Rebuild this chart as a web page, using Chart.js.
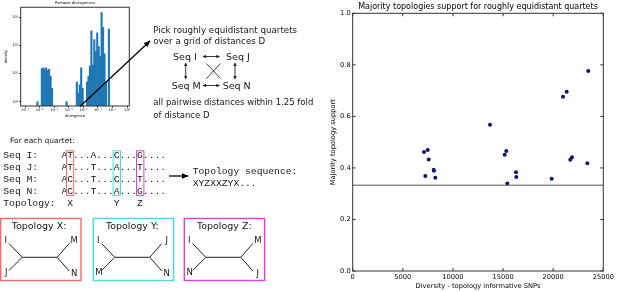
<!DOCTYPE html>
<html>
<head>
<meta charset="utf-8">
<script src="https://cdn.jsdelivr.net/npm/chart.js@4.4.0/dist/chart.umd.min.js"></script>
<style>
  html, body { margin: 0; padding: 0; background: #fff; }
  #fig { position: relative; width: 617px; height: 292px; overflow: hidden; background: #fff; }
  .box { position: absolute; }
  #histBox { left: 0; top: 0; width: 135px; height: 122px; }
  #scatterBox { left: 300px; top: 0; width: 317px; height: 292px; }
  #diagram { position: absolute; left: 0; top: 0; pointer-events: none; }
  #diagram text { font-family: "DejaVu Sans", sans-serif; fill: #151515; }
  #diagram text.mono { font-family: "Liberation Mono", monospace; font-size: 9.7px; white-space: pre; }
</style>
</head>
<body>
<div id="fig">
  <div class="box" id="histBox"><canvas id="histChart"></canvas></div>
  <div class="box" id="scatterBox"><canvas id="scatterChart"></canvas></div>
  <svg id="diagram" width="617" height="292">
    <defs>
      <marker id="headBig" viewBox="0 0 10 10" refX="9" refY="5" markerWidth="7" markerHeight="7" markerUnits="userSpaceOnUse" orient="auto">
        <path d="M0,1 L10,5 L0,9 z" fill="#000"/>
      </marker>
      <marker id="headSmall" viewBox="0 0 10 10" refX="9" refY="5" markerWidth="3.5" markerHeight="3.5" markerUnits="userSpaceOnUse" orient="auto-start-reverse">
        <path d="M0,0 L10,5 L0,10 z" fill="#222"/>
      </marker>
    </defs>

    <!-- arrow from the histogram to the quartet picking step -->
    <line x1="80" y1="106.5" x2="150" y2="41" stroke="#000" stroke-width="1.3" marker-end="url(#headBig)"/>

    <text x="153.3" y="33" font-size="8.7">Pick roughly equidistant quartets</text>
    <text x="153.3" y="43.8" font-size="8.7">over a grid of distances D</text>
    <text x="173" y="60" font-size="9.5">Seq I</text>
    <text x="226" y="60" font-size="9.5">Seq J</text>
    <text x="171.7" y="88.6" font-size="9.5">Seq M</text>
    <text x="222.7" y="89.3" font-size="9.5">Seq N</text>
    <g stroke="#222" stroke-width="0.9">
      <line x1="203" y1="56.5" x2="219.5" y2="56.5" marker-start="url(#headSmall)" marker-end="url(#headSmall)"/>
      <line x1="203" y1="85.5" x2="219.5" y2="85.5" marker-start="url(#headSmall)" marker-end="url(#headSmall)"/>
      <line x1="185.7" y1="63" x2="185.7" y2="79" marker-start="url(#headSmall)" marker-end="url(#headSmall)"/>
      <line x1="235" y1="63" x2="235" y2="79" marker-start="url(#headSmall)" marker-end="url(#headSmall)"/>
      <line x1="206.5" y1="63.5" x2="220.5" y2="78.5"/>
      <line x1="220.5" y1="63.5" x2="206.5" y2="78.5"/>
    </g>
    <text x="153.3" y="104.8" font-size="8.5">all pairwise distances within 1.25 fold</text>
    <text x="153.3" y="118" font-size="8.5">of distance D</text>

    <text x="10" y="142.7" font-size="7.5">For each quartet:</text>
    <text class="mono" x="3.3" y="158.3">Seq I:    AT...A...C...G....</text>
    <text class="mono" x="3.3" y="170.1">Seq J:    AT...T...A...T....</text>
    <text class="mono" x="3.3" y="181.9">Seq M:    AC...T...C...T....</text>
    <text class="mono" x="3.3" y="193.7">Seq N:    AC...T...A...G....</text>
    <text class="mono" x="3.3" y="205.5">Topology:  X       Y   Z</text>
    <rect x="66.5" y="150.8" width="7.2" height="44.6" fill="none" stroke="#f46a6a" stroke-width="1"/>
    <rect x="113.1" y="150.8" width="7.4" height="44.6" fill="none" stroke="#44dde4" stroke-width="1"/>
    <rect x="136.5" y="150.8" width="7.4" height="44.6" fill="none" stroke="#dd3fdd" stroke-width="1"/>
    <line x1="169" y1="176" x2="188" y2="176" stroke="#000" stroke-width="1.3" marker-end="url(#headBig)"/>
    <text class="mono" x="192.7" y="174">Topology sequence:</text>
    <text class="mono" x="192.7" y="185.7">XYZXXZYX...</text>

    <g id="trees"></g>
  </svg>
</div>
<script>
// pairwise divergences histogram: log10 bin centres and counts
const divergenceBins = [-6.15, -5.85, -5.75, -5.65, -5.55, -5.45, -5.35, -5.25, -5.15, -4.15,
  -3.45, -3.35, -3.25, -3.15, -3.05, -2.75, -2.65, -2.55, -2.45, -2.35,
  -2.25, -2.15, -2.05, -1.95, -1.85, -1.75, -1.65, -1.55, -1.45, -1.25];
const divergenceDensity = [1, 15, 16, 14, 16, 13, 14, 8, 3, 1,
  5, 2, 4, 16, 3, 5, 8, 18, 330, 20,
  160, 60, 280, 90, 40, 1480, 440, 50, 5, 380];
const divergenceTicks = [-7, -6, -5, -4, -3, -2, -1, 0];
const densityTicks = [1, 10, 100, 1000];

// majority topology support vs diversity
const snpDiversity = [7113, 7482, 7582, 8081, 8100, 7243, 8240, 13697, 15163, 15323,
  16291, 16321, 15423, 19852, 20979, 21349, 21708, 21877, 23404, 23504];
const majoritySupport = [0.462, 0.470, 0.433, 0.393, 0.389, 0.369, 0.362, 0.568, 0.451, 0.466,
  0.383, 0.365, 0.340, 0.358, 0.676, 0.696, 0.432, 0.441, 0.418, 0.776];
const chanceLevel = 0.333;
const supportTicks = [0, 0.2, 0.4, 0.6, 0.8, 1.0];
const diversityTicks = [0, 5000, 10000, 15000, 20000, 25000];

// the three quartet topologies (leaves: top-left, bottom-left, top-right, bottom-right)
const topologies = [
  { name: 'X', color: '#f46a6a', left: 0.7, leaves: ['I', 'J', 'M', 'N'] },
  { name: 'Y', color: '#44dde4', left: 93.3, leaves: ['I', 'M', 'J', 'N'] },
  { name: 'Z', color: '#dd3fdd', left: 184.3, leaves: ['I', 'N', 'M', 'J'] }
];

const SVGNS = 'http://www.w3.org/2000/svg';
const trees = document.getElementById('trees');
function svgEl(tag, attrs, text) {
  const el = document.createElementNS(SVGNS, tag);
  Object.entries(attrs).forEach(([k, v]) => el.setAttribute(k, v));
  if (text) el.textContent = text;
  trees.appendChild(el);
  return el;
}
topologies.forEach(t => {
  const b = t.left;
  svgEl('rect', { x: b, y: 218.5, width: 80.3, height: 62, fill: 'none', stroke: t.color, 'stroke-width': 1.4 });
  svgEl('text', { x: b + (t.name === 'X' ? 11 : 12.7), y: 228.5, 'font-size': 9.5 }, 'Topology ' + t.name + ':');
  const mid = 257.3;
  const segs = [
    [b + 8.3, 243.5, b + 21.5, mid], [b + 8.3, 270.5, b + 21.5, mid],
    [b + 21.5, mid, b + 56.5, mid],
    [b + 56.5, mid, b + 68.5, 243.5], [b + 56.5, mid, b + 68.5, 271]
  ];
  segs.forEach(s => svgEl('line', { x1: s[0], y1: s[1], x2: s[2], y2: s[3], stroke: '#222', 'stroke-width': 1 }));
  const spots = [[b + 5, 243.3], [b + 5.5, 275], [b + 73.5, 243.3], [b + 73.5, 276.3]];
  t.leaves.forEach((l, i) => svgEl('text', { x: spots[i][0], y: spots[i][1], 'font-size': 8.5, 'text-anchor': 'middle' }, l));
});

Chart.defaults.font.family = 'DejaVu Sans';
Chart.defaults.color = '#000';

const supDigits = { '-': '\u207B', '0': '\u2070', '1': '\u00B9', '2': '\u00B2', '3': '\u00B3', '4': '\u2074', '5': '\u2075', '6': '\u2076', '7': '\u2077', '8': '\u2078', '9': '\u2079' };
const sup = n => String(n).split('').map(c => supDigits[c]).join('');

// box round the plot area, with optional inward ticks on all four sides
const framePlugin = {
  id: 'frame',
  afterDatasetsDraw(chart, args, opts) {
    const { ctx, chartArea: a, scales: { x, y } } = chart;
    ctx.save();
    ctx.strokeStyle = opts.color || '#000';
    ctx.lineWidth = 1;
    ctx.strokeRect(a.left, a.top, a.right - a.left, a.bottom - a.top);
    const n = opts.inTicks || 0;
    if (n) {
      ctx.beginPath();
      x.ticks.forEach(t => {
        const p = x.getPixelForValue(t.value);
        ctx.moveTo(p, a.bottom); ctx.lineTo(p, a.bottom - n);
        ctx.moveTo(p, a.top); ctx.lineTo(p, a.top + n);
      });
      y.ticks.forEach(t => {
        const p = y.getPixelForValue(t.value);
        ctx.moveTo(a.left, p); ctx.lineTo(a.left + n, p);
        ctx.moveTo(a.right, p); ctx.lineTo(a.right - n, p);
      });
      ctx.stroke();
    }
    ctx.restore();
  }
};

new Chart(document.getElementById('histChart'), {
  type: 'bar',
  data: {
    datasets: [{
      data: divergenceBins.map((b, i) => ({ x: b, y: divergenceDensity[i] })),
      backgroundColor: '#1f77b4',
      borderWidth: 0,
      barPercentage: 1,
      categoryPercentage: 1
    }]
  },
  options: {
    responsive: true,
    maintainAspectRatio: false,
    animation: false,
    layout: { padding: { left: 0, right: 5.7, top: 0, bottom: 0 } },
    plugins: {
      legend: { display: false },
      tooltip: { enabled: false },
      title: {
        display: true, text: 'Pairwise divergences', fullSize: false,
        font: { size: 3.8, weight: 'normal' }, padding: { top: 1.2, bottom: 1.5 }
      },
      frame: { color: '#333' }
    },
    scales: {
      x: {
        type: 'linear', min: -7.3, max: 0.15, offset: false,
        afterBuildTicks: s => { s.ticks = divergenceTicks.map(v => ({ value: v })); },
        ticks: { callback: v => '10' + sup(v), font: { size: 3.6 }, padding: 0.5, maxRotation: 0, autoSkip: false },
        grid: { display: true, offset: false, drawOnChartArea: false, tickLength: 1.5, color: '#000' },
        border: { display: false },
        title: { display: true, text: 'divergence', font: { size: 3.6 }, padding: { top: 0, bottom: 3.9 } },
        afterFit: s => { s.height = 16; }
      },
      y: {
        type: 'logarithmic', min: 0.74, max: 2275,
        afterBuildTicks: s => { s.ticks = densityTicks.map(v => ({ value: v })); },
        ticks: { callback: v => '10' + sup(Math.round(Math.log10(v))), font: { size: 3.6 }, padding: 1 },
        grid: { display: true, drawOnChartArea: false, tickLength: 1.5, color: '#000' },
        border: { display: false },
        title: { display: true, text: 'density', font: { size: 3.6 }, padding: { top: 3.9, bottom: 0 } },
        afterFit: s => { s.width = 20.7; }
      }
    }
  },
  plugins: [framePlugin]
});

new Chart(document.getElementById('scatterChart'), {
  type: 'scatter',
  data: {
    datasets: [
      {
        type: 'line',
        data: [{ x: diversityTicks[0], y: chanceLevel }, { x: diversityTicks[diversityTicks.length - 1], y: chanceLevel }],
        borderColor: '#555',
        borderWidth: 1,
        pointRadius: 0
      },
      {
        data: snpDiversity.map((d, i) => ({ x: d, y: majoritySupport[i] })),
        backgroundColor: '#14146c',
        borderColor: '#14146c',
        borderWidth: 0,
        pointRadius: 2
      }
    ]
  },
  options: {
    responsive: true,
    maintainAspectRatio: false,
    animation: false,
    layout: { padding: { left: 0, right: 13.7, top: 0, bottom: 0 } },
    plugins: {
      legend: { display: false },
      tooltip: { enabled: false },
      title: {
        display: true, text: 'Majority topologies support for roughly equidistant quartets', fullSize: false,
        font: { size: 8, weight: 'normal' }, padding: { top: 2, bottom: 1.7 }
      },
      frame: { color: '#333', inTicks: 3 }
    },
    scales: {
      x: {
        type: 'linear', min: diversityTicks[0], max: diversityTicks[diversityTicks.length - 1],
        afterBuildTicks: s => { s.ticks = diversityTicks.map(v => ({ value: v })); },
        ticks: { font: { size: 6.7 }, padding: 2, maxRotation: 0, autoSkip: false, callback: v => String(v) },
        grid: { display: false, drawTicks: false },
        border: { display: false },
        title: { display: true, text: 'Diversity - topology informative SNPs', font: { size: 6.7 }, padding: { top: 0, bottom: 2 } },
        afterFit: s => { s.height = 21; }
      },
      y: {
        min: supportTicks[0], max: supportTicks[supportTicks.length - 1],
        afterBuildTicks: s => { s.ticks = supportTicks.map(v => ({ value: v })); },
        ticks: { font: { size: 6.7 }, padding: 2, callback: v => v.toFixed(1) },
        grid: { display: false, drawTicks: false },
        border: { display: false },
        title: { display: true, text: 'Majority topology support', font: { size: 6.7 }, padding: { top: 29.3, bottom: 0 } },
        afterFit: s => { s.width = 52.7; }
      }
    }
  },
  plugins: [framePlugin]
});
</script>
</body>
</html>
